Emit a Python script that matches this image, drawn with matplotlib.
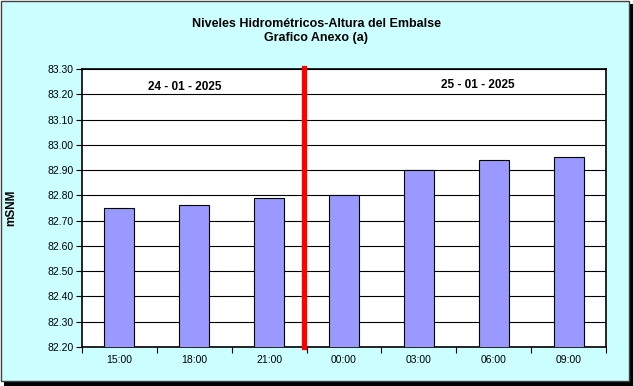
import matplotlib
matplotlib.use("Agg")
import matplotlib.pyplot as plt
from matplotlib.patches import Rectangle
import numpy as np

categories = ["15:00", "18:00", "21:00", "00:00", "03:00", "06:00", "09:00"]
values = [82.75, 82.76, 82.79, 82.80, 82.90, 82.94, 82.95]
y_ticks = [82.20, 82.30, 82.40, 82.50, 82.60, 82.70, 82.80, 82.90, 83.00, 83.10, 83.20, 83.30]
date_labels = ["24 - 01 - 2025", "25 - 01 - 2025"]
title = "Niveles Hidrométricos-Altura del Embalse\nGrafico Anexo (a)"

plt.rcParams['font.family'] = ['Liberation Sans', 'DejaVu Sans']

W, H = 633, 386
fig = plt.figure(figsize=(W/100, H/100), dpi=100)
fig.patch.set_facecolor("white")

# shadow and frame (pixel coords converted to figure fraction)
def rect(x0, y0, x1, y1, **kw):
    return Rectangle((x0/W, 1 - y1/H), (x1-x0)/W, (y1-y0)/H, transform=fig.transFigure, **kw)

fig.patches.append(rect(4, 4, 633, 386, facecolor="#000000", edgecolor="none", zorder=-3))
fig.patches.append(rect(1, 0.5, 629, 380.5, facecolor="#CCFFFF", edgecolor="#404040",
                        linewidth=1.0, zorder=-2))

L, R, T, B = 82, 606, 69, 347
ax = fig.add_axes([L/W, 1 - B/H, (R-L)/W, (B-T)/H])
ax.set_facecolor("white")
x = np.arange(len(categories))
ax.bar(x, values, width=0.4, color="#9999FF", edgecolor="black", linewidth=0.8, zorder=3)
ax.set_xlim(-0.5, len(categories) - 0.5)
ax.set_ylim(y_ticks[0], y_ticks[-1])
ax.set_yticks(y_ticks)
ax.set_yticklabels([f"{v:.2f}" for v in y_ticks], fontsize=7.5)
ax.yaxis.grid(True, color="black", linewidth=0.8, zorder=1)
ax.set_axisbelow(True)

ax.set_xticks(x)
ax.set_xticklabels(categories, fontsize=7.5)
ax.tick_params(axis="x", which="major", length=0, pad=6)
ax.set_xticks(np.arange(-0.5, len(categories)), minor=True)
ax.tick_params(axis="x", which="minor", length=4, direction="out", width=0.8)
ax.tick_params(axis="y", length=4, direction="out", width=0.8, pad=2)

for s in ax.spines.values():
    s.set_linewidth(1.2)
    s.set_color("black")

ax.axvline(2.5 - 0.03, color="#FF0000", linewidth=3.8, zorder=5, clip_on=False, ymin=0, ymax=1.005)

fig.text(185/W, 1 - 87/H, date_labels[0], fontsize=8.5, fontweight="bold", ha="center", va="center")
fig.text(478/W, 1 - 85/H, date_labels[1], fontsize=8.5, fontweight="bold", ha="center", va="center")

fig.text(316/W, 1 - 31/H, title, fontsize=9, fontweight="bold", ha="center", va="center",
         linespacing=1.2)
fig.text(11/W, 1 - 208/H, "mSNM", fontsize=8.5, fontweight="bold", rotation=90,
         ha="center", va="center")

fig.savefig("out.png", dpi=100)
